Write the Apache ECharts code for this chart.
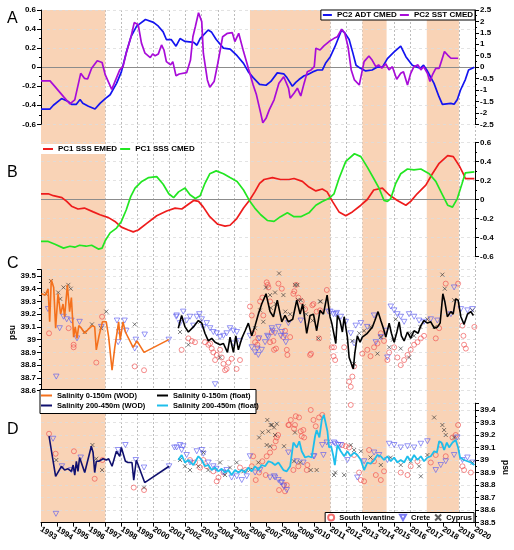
<!DOCTYPE html>
<html lang="en" style="height: 100%">
<head>
  <meta charset="utf-8">
</head>
<body style="height: 100%; margin: 0; background: #fff">
  <div id="container" style="width: 514px; height: 550px"></div>

  <script type="text/javascript" src="https://fastly.jsdelivr.net/npm/echarts@6/dist/echarts.min.js"></script>
  <script type="text/javascript">
    // ---- data: [year, value] ----
    var shadeSpans = [[1993, 1997], [2006, 2011], [2013, 2014.5], [2017, 2019]];

    // panel A (ADT on left axis, SST on right axis)
    var adtCmed = [[1993.0,-0.44],[1993.56,-0.44],[1993.77,-0.40],[1994.28,-0.33],[1994.69,-0.36],[1994.9,-0.39],[1995.2,-0.39],[1995.43,-0.34],[1995.6,-0.38],[1995.95,-0.41],[1996.36,-0.44],[1996.67,-0.38],[1997.0,-0.33],[1997.3,-0.29],[1997.7,-0.17],[1998.0,-0.05],[1998.3,0.15],[1998.6,0.32],[1998.95,0.43],[1999.5,0.50],[2000.0,0.47],[2000.3,0.43],[2000.6,0.37],[2000.8,0.29],[2001.1,0.29],[2001.4,0.22],[2001.65,0.30],[2001.96,0.27],[2002.5,0.26],[2002.7,0.23],[2002.9,0.30],[2003.4,0.39],[2003.6,0.37],[2003.9,0.29],[2004.35,0.20],[2004.77,0.19],[2005.2,0.12],[2005.6,0.04],[2005.9,-0.05],[2006.2,-0.11],[2006.6,-0.18],[2007.0,-0.19],[2007.3,-0.15],[2007.7,-0.06],[2008.1,-0.07],[2008.3,-0.11],[2008.64,-0.20],[2008.85,-0.16],[2009.05,-0.13],[2009.37,-0.09],[2009.57,-0.08],[2009.9,-0.05],[2010.2,-0.03],[2010.5,-0.03],[2010.7,0.04],[2011.0,0.11],[2011.3,0.22],[2011.7,0.39],[2011.9,0.36],[2012.17,0.29],[2012.4,0.15],[2012.6,0.02],[2012.85,-0.01],[2013.2,-0.04],[2013.6,-0.03],[2013.9,0.0],[2014.24,0.0],[2014.55,0.09],[2014.97,0.16],[2015.38,0.22],[2015.7,0.11],[2016.1,0.02],[2016.4,0.0],[2016.6,-0.01],[2016.8,0.02],[2017.0,-0.03],[2017.45,-0.17],[2017.76,-0.31],[2017.97,-0.39],[2018.5,-0.38],[2018.7,-0.39],[2018.9,-0.34],[2019.1,-0.24],[2019.4,-0.13],[2019.6,-0.03],[2019.96,0.0]];
    var sstCmed = [[1993.0,-0.60],[1993.56,-0.60],[1993.87,-0.85],[1994.4,-1.29],[1994.8,-1.61],[1995.1,-1.43],[1995.47,-0.27],[1995.7,-0.49],[1995.9,-0.52],[1996.15,-0.05],[1996.5,0.28],[1996.8,0.20],[1997.0,-0.34],[1997.1,-0.38],[1997.4,-0.97],[1997.6,-0.63],[1997.9,-0.12],[1998.1,0.02],[1998.3,0.61],[1998.6,1.33],[1998.8,1.95],[1999.05,1.85],[1999.25,1.05],[1999.47,0.61],[1999.8,0.42],[1999.95,0.58],[2000.1,0.50],[2000.3,0.58],[2000.5,0.97],[2000.65,0.75],[2000.8,0.24],[2001.06,0.10],[2001.2,0.24],[2001.4,-0.38],[2001.6,-0.30],[2002.06,-0.24],[2002.3,0.31],[2002.45,1.33],[2002.6,1.77],[2002.8,2.38],[2003.0,1.99],[2003.1,0.61],[2003.35,-0.56],[2003.5,-0.88],[2003.77,-0.63],[2004.0,0.17],[2004.3,1.33],[2004.6,1.48],[2004.9,1.51],[2005.06,1.12],[2005.3,1.48],[2005.6,0.68],[2005.9,-0.05],[2006.2,-0.78],[2006.4,-1.2],[2006.67,-2.02],[2006.8,-2.43],[2007.0,-2.24],[2007.2,-1.87],[2007.3,-1.95],[2007.5,-1.43],[2007.8,-0.70],[2008.1,-0.42],[2008.4,-0.92],[2008.5,-1.36],[2008.74,-1.14],[2008.95,-0.92],[2009.16,-1.26],[2009.37,-0.70],[2009.57,-0.2],[2009.8,-0.12],[2010.0,0.02],[2010.1,0.83],[2010.36,0.75],[2010.6,0.93],[2010.92,1.12],[2011.23,1.26],[2011.44,1.33],[2011.7,1.66],[2011.9,1.48],[2012.1,0.90],[2012.3,-0.12],[2012.5,-0.56],[2012.8,-0.78],[2012.93,-0.34],[2013.1,0.24],[2013.4,0.49],[2013.6,0.31],[2013.83,0.02],[2014.0,0.10],[2014.2,-0.05],[2014.45,0.14],[2014.65,-0.12],[2014.86,0.02],[2015.13,-0.53],[2015.38,-0.27],[2015.55,-0.2],[2015.8,-0.78],[2016.0,-0.27],[2016.2,0.02],[2016.45,0.10],[2016.63,-0.12],[2016.8,0.02],[2017.04,-0.27],[2017.2,-0.63],[2017.35,-0.34],[2017.56,-0.05],[2017.77,-0.05],[2017.97,0.39],[2018.1,0.68],[2018.3,0.53],[2018.5,0.39],[2018.95,0.39]];

    // panel B
    var sssEmed = [[1993.0,0.06],[1993.45,0.06],[1993.77,0.04],[1994.3,0.02],[1994.6,-0.02],[1994.9,-0.07],[1995.3,-0.10],[1995.7,-0.09],[1996.25,-0.13],[1996.67,-0.16],[1997.2,-0.19],[1997.6,-0.23],[1998.0,-0.29],[1998.43,-0.32],[1998.74,-0.34],[1999.05,-0.32],[1999.58,-0.25],[2000.2,-0.17],[2000.82,-0.12],[2001.34,-0.09],[2001.76,-0.10],[2002.17,-0.05],[2002.5,-0.01],[2002.8,-0.02],[2003.1,-0.08],[2003.5,-0.18],[2004.0,-0.26],[2004.45,-0.28],[2004.76,-0.27],[2005.18,-0.20],[2005.6,-0.09],[2005.96,-0.01],[2006.3,0.08],[2006.6,0.17],[2006.88,0.21],[2007.4,0.23],[2007.9,0.21],[2008.43,0.21],[2008.74,0.22],[2009.26,0.19],[2009.67,0.13],[2010.1,0.09],[2010.5,0.11],[2010.8,0.08],[2011.13,-0.02],[2011.54,-0.13],[2011.96,-0.17],[2012.37,-0.13],[2012.9,-0.06],[2013.3,0.0],[2013.7,0.10],[2014.24,0.12],[2014.65,0.05],[2015.17,-0.01],[2015.7,-0.06],[2016.0,-0.02],[2016.4,0.06],[2016.94,0.15],[2017.35,0.27],[2017.77,0.38],[2018.3,0.46],[2018.65,0.45],[2019.0,0.36],[2019.3,0.26],[2019.4,0.22],[2019.96,0.22]];
    var sssCmed = [[1993.0,-0.44],[1993.45,-0.44],[1993.87,-0.47],[1994.4,-0.51],[1994.8,-0.49],[1995.1,-0.50],[1995.4,-0.48],[1995.8,-0.49],[1996.15,-0.48],[1996.57,-0.52],[1996.8,-0.51],[1997.0,-0.43],[1997.3,-0.35],[1997.7,-0.30],[1998.0,-0.23],[1998.3,-0.11],[1998.58,0.03],[1998.85,0.12],[1999.27,0.19],[1999.7,0.23],[2000.2,0.24],[2000.6,0.16],[2000.95,0.06],[2001.25,0.02],[2001.56,0.08],[2001.96,0.12],[2002.27,0.05],[2002.6,0.01],[2002.9,0.04],[2003.2,0.17],[2003.5,0.27],[2003.9,0.30],[2004.35,0.27],[2004.76,0.23],[2005.2,0.19],[2005.6,0.10],[2005.96,-0.01],[2006.3,-0.09],[2006.67,-0.16],[2007.08,-0.22],[2007.5,-0.23],[2007.9,-0.18],[2008.33,-0.14],[2008.74,-0.18],[2009.16,-0.18],[2009.67,-0.14],[2010.1,-0.06],[2010.5,-0.02],[2010.9,0.01],[2011.23,0.06],[2011.54,0.22],[2011.96,0.40],[2012.5,0.48],[2012.9,0.45],[2013.3,0.34],[2013.7,0.22],[2014.03,0.12],[2014.34,-0.01],[2014.55,-0.02],[2014.76,0.01],[2015.07,0.17],[2015.38,0.27],[2015.8,0.32],[2016.2,0.31],[2016.63,0.32],[2017.15,0.27],[2017.56,0.19],[2017.97,0.05],[2018.3,-0.06],[2018.6,-0.08],[2018.9,0.01],[2019.2,0.17],[2019.4,0.28],[2019.96,0.29]];

    // panel C (0-150 m)
    var wodShallow = [[1993.02,39.36],[1993.27,39.35],[1993.44,39.40],[1993.54,39.14],[1993.64,39.47],[1993.79,39.41],[1993.91,39.09],[1994.06,39.36],[1994.22,39.20],[1994.37,39.28],[1994.47,39.18],[1994.64,39.43],[1994.78,39.22],[1994.89,39.33],[1995.03,39.02],[1995.13,39.10],[1995.24,39.01],[1995.35,39.11],[1995.51,39.09],[1995.72,39.05],[1995.93,39.08],[1996.2,39.11],[1996.34,39.10],[1996.44,38.92],[1996.61,39.03],[1996.82,39.14],[1997.06,39.14],[1997.21,39.02],[1997.42,38.76],[1997.59,38.94],[1997.83,39.14],[1997.93,39.00],[1998.1,39.14],[1998.25,39.06],[1998.37,39.07],[1998.73,38.94],[1998.97,38.99],[1999.41,38.90],[2000.95,39.00]];
    var floatShallow = [[2001.54,39.09],[2001.75,39.19],[2001.96,39.10],[2002.17,39.06],[2002.48,39.10],[2002.79,39.15],[2003.0,39.13],[2003.2,39.05],[2003.41,38.99],[2003.62,39.01],[2003.83,38.98],[2004.14,38.96],[2004.35,38.97],[2004.6,38.90],[2004.76,39.02],[2004.97,38.90],[2005.12,39.03],[2005.28,38.92],[2005.49,39.01],[2005.7,39.07],[2005.9,39.13],[2006.11,39.03],[2006.32,39.11],[2006.52,39.20],[2006.73,39.28],[2007.0,39.36],[2007.25,39.22],[2007.46,39.18],[2007.7,39.31],[2007.98,39.14],[2008.18,39.19],[2008.39,39.14],[2008.66,39.16],[2008.91,39.31],[2009.12,39.20],[2009.28,39.28],[2009.53,39.05],[2009.74,39.19],[2009.95,39.20],[2010.15,39.07],[2010.36,39.23],[2010.57,39.20],[2010.8,39.35],[2010.98,39.18],[2011.09,39.13],[2011.34,38.97],[2011.44,39.19],[2011.6,39.15],[2011.75,39.06],[2011.86,39.18],[2012.06,39.02],[2012.17,38.86],[2012.31,38.81],[2012.43,38.77],[2012.52,38.89],[2012.68,39.03],[2012.85,38.98],[2012.99,39.02],[2013.3,39.05],[2013.62,39.10],[2013.77,39.15],[2013.97,39.22],[2014.14,39.15],[2014.3,39.09],[2014.45,39.02],[2014.66,39.13],[2014.8,39.05],[2014.97,38.98],[2015.14,39.06],[2015.28,39.14],[2015.42,39.03],[2015.59,38.99],[2015.8,39.06],[2016.0,39.01],[2016.21,39.07],[2016.46,39.05],[2016.63,39.11],[2016.83,39.15],[2017.04,39.13],[2017.25,39.14],[2017.46,39.09],[2017.66,39.10],[2017.83,39.13],[2018.0,39.36],[2018.12,39.30],[2018.28,39.18],[2018.5,39.22],[2018.64,39.20],[2018.8,39.32],[2018.95,39.31],[2019.12,39.18],[2019.32,39.12],[2019.53,39.20],[2019.74,39.22],[2019.9,39.19]];
    var cLevantine = [[1993.5,39.05],[1994.72,39.09],[1995.03,38.96],[1995.03,38.94],[1996.44,38.82],[1996.8,39.18],[1998.83,38.79],[1999.41,38.76],[2001.75,38.92],[2002.17,39.01],[2002.38,38.99],[2002.58,38.98],[2003.2,38.98],[2003.41,38.96],[2003.52,38.97],[2003.62,38.93],[2003.72,38.90],[2003.83,38.84],[2003.93,38.88],[2004.14,38.92],[2004.24,38.86],[2004.35,38.81],[2004.45,38.76],[2004.55,38.77],[2004.66,38.82],[2004.86,38.85],[2005.17,38.77],[2005.38,38.84],[2006.0,39.26],[2006.11,39.19],[2006.2,39.05],[2006.32,38.98],[2006.46,38.96],[2006.52,39.01],[2006.63,39.30],[2006.77,39.33],[2006.83,39.19],[2007.04,39.45],[2007.1,39.43],[2007.15,39.41],[2007.25,39.30],[2007.36,39.06],[2007.25,38.98],[2007.46,38.99],[2007.5,38.92],[2007.62,38.93],[2007.77,39.44],[2007.98,39.40],[2008.08,39.02],[2008.18,39.07],[2008.29,38.92],[2008.33,38.88],[2008.5,39.02],[2008.7,39.36],[2008.76,39.38],[2008.87,39.43],[2009.01,39.33],[2009.22,39.30],[2009.43,39.24],[2009.74,38.88],[2009.8,38.89],[2009.88,39.27],[2009.95,39.28],[2010.15,39.22],[2010.3,39.01],[2010.36,39.23],[2010.78,39.39],[2011.09,38.94],[2011.2,38.87],[2011.23,38.94],[2011.3,38.84],[2011.86,38.94],[2012.17,38.67],[2012.27,38.63],[2012.37,38.71],[2012.48,38.79],[2012.99,38.89],[2013.3,38.92],[2013.5,38.87],[2013.72,38.94],[2013.93,38.97],[2014.14,39.05],[2014.34,38.99],[2014.55,38.84],[2014.66,38.90],[2014.97,38.94],[2015.17,38.86],[2015.38,38.80],[2015.59,38.84],[2015.8,38.88],[2016.0,38.92],[2016.21,38.96],[2016.42,38.98],[2016.63,39.01],[2016.83,39.03],[2017.56,39.01],[2017.77,39.09],[2018.18,39.44],[2018.95,39.44],[2019.22,39.11],[2019.28,39.03],[2019.32,38.96],[2019.43,38.93],[2019.96,39.10]];
    var cCrete = [[1993.44,39.24],[1993.95,38.71],[1994.16,39.09],[1994.4,39.18],[1994.6,39.16],[1994.89,39.15],[1995.24,39.01],[1995.4,39.14],[1996.75,39.10],[1997.73,39.15],[1997.8,38.98],[1997.87,39.06],[1998.2,39.15],[1998.3,39.07],[1998.83,38.93],[1998.9,39.0],[1999.45,39.04],[2000.95,39.0],[2001.42,39.18],[2001.44,39.19],[2001.65,39.13],[2001.85,39.22],[2002.06,39.15],[2002.27,39.18],[2002.48,39.11],[2002.69,39.18],[2002.85,39.20],[2003.0,39.16],[2003.1,39.10],[2003.31,39.13],[2003.52,39.09],[2003.72,39.06],[2003.83,38.65],[2003.93,39.05],[2004.14,39.02],[2004.35,39.03],[2004.55,39.05],[2004.76,39.09],[2004.97,39.07],[2004.97,38.97],[2005.18,39.06],[2005.38,38.99],[2006.0,39.03],[2006.11,38.94],[2006.32,38.90],[2006.46,38.93],[2006.52,38.88],[2006.57,39.01],[2006.73,38.92],[2006.94,38.98],[2007.08,39.03],[2007.15,39.02],[2007.36,39.09],[2007.4,39.07],[2007.56,39.05],[2007.77,39.10],[2007.92,39.03],[2007.98,39.06],[2008.18,39.03],[2008.23,38.98],[2008.39,39.13],[2009.16,39.15],[2010.88,39.22],[2011.0,39.22],[2011.2,39.20],[2011.34,39.20],[2011.4,39.21],[2011.65,39.18],[2011.96,39.14],[2012.27,39.05],[2012.48,38.97],[2012.58,39.11],[2012.9,39.13],[2013.3,39.10],[2013.72,39.19],[2013.83,38.98],[2014.14,39.02],[2014.45,39.07],[2014.55,38.86],[2014.76,39.26],[2014.97,39.23],[2015.17,39.20],[2015.38,39.18],[2015.59,39.14],[2015.9,39.20],[2016.21,39.18],[2016.52,39.15],[2016.83,39.14],[2017.25,39.16],[2017.66,39.15],[2018.5,39.20],[2018.7,39.41],[2019.12,39.24],[2019.53,39.23],[2019.84,39.24]];
    var cCyprus = [[1993.31,39.36],[1993.62,39.46],[1994.07,39.37],[1994.2,39.32],[1994.4,39.41],[1994.7,39.43],[1994.85,39.40],[1995.72,39.06],[1996.17,39.12],[1996.75,39.09],[1997.06,39.22],[1998.83,39.12],[2001.65,39.06],[2002.17,38.96],[2002.9,39.14],[2004.14,38.86],[2006.32,39.09],[2006.63,39.23],[2006.83,39.14],[2007.0,39.41],[2007.25,39.35],[2007.3,39.25],[2007.56,39.37],[2007.6,39.28],[2007.81,39.52],[2008.08,39.35],[2008.2,39.22],[2008.5,39.20],[2008.8,39.43],[2008.95,39.43],[2009.0,39.31],[2009.16,39.31],[2009.32,39.26],[2009.5,39.20],[2009.9,39.15],[2010.26,39.01],[2010.36,39.30],[2010.4,39.30],[2012.37,38.99],[2012.48,38.81],[2012.8,39.05],[2013.1,39.07],[2013.5,39.10],[2013.93,38.89],[2014.14,39.02],[2014.66,38.94],[2014.9,39.00],[2015.07,39.16],[2015.38,38.93],[2015.9,38.86],[2016.0,39.05],[2016.21,39.03],[2016.6,39.10],[2017.04,39.16],[2017.5,39.10],[2017.97,39.51],[2018.12,39.40],[2018.7,39.31],[2019.84,39.23]];

    // panel D (200-450 m)
    var wodDeep = [[1993.5,39.19],[1993.91,38.87],[1994.27,38.95],[1994.47,38.92],[1994.68,38.93],[1994.89,38.91],[1995.0,38.96],[1995.1,38.88],[1995.2,38.99],[1995.3,38.91],[1995.4,39.02],[1995.72,38.90],[1996.13,39.11],[1996.24,39.06],[1996.34,38.90],[1996.44,38.99],[1996.59,38.99],[1996.86,39.01],[1997.06,39.00],[1997.21,39.01],[1997.42,38.95],[1997.69,39.07],[1997.9,39.03],[1998.0,39.10],[1998.1,39.11],[1998.25,38.99],[1998.41,38.98],[1998.66,38.98],[1998.77,38.84],[1998.93,39.00],[1999.45,38.82],[2000.97,38.95]];
    var floatDeep = [[2001.54,39.0],[2001.75,39.04],[2001.96,38.98],[2002.17,39.0],[2002.48,38.96],[2002.79,39.03],[2003.0,39.0],[2003.2,38.95],[2003.41,38.96],[2003.62,38.92],[2003.83,38.94],[2004.04,38.91],[2004.24,38.93],[2004.45,38.90],[2004.66,38.92],[2004.86,38.88],[2005.07,38.92],[2005.28,38.90],[2005.49,38.92],[2005.7,38.90],[2005.9,38.94],[2006.11,38.91],[2006.32,38.95],[2006.52,38.92],[2006.73,38.96],[2006.94,38.95],[2007.15,38.99],[2007.36,38.98],[2007.56,38.96],[2007.77,38.98],[2008.08,38.92],[2008.29,38.91],[2008.5,38.95],[2008.7,39.14],[2008.91,39.10],[2009.07,39.15],[2009.22,39.07],[2009.43,39.02],[2009.64,39.03],[2009.84,39.02],[2010.05,39.19],[2010.15,39.24],[2010.32,39.18],[2010.47,39.32],[2010.6,39.36],[2010.7,39.35],[2010.82,39.23],[2010.92,39.10],[2011.05,39.11],[2011.19,39.03],[2011.28,38.96],[2011.44,39.12],[2011.65,39.07],[2011.86,39.03],[2012.06,39.07],[2012.27,39.03],[2012.48,39.06],[2012.68,39.04],[2012.9,39.0],[2013.1,38.92],[2013.3,38.98],[2013.5,38.97],[2013.72,39.0],[2013.93,39.04],[2014.14,39.03],[2014.34,39.0],[2014.55,39.03],[2014.76,38.99],[2014.97,39.02],[2015.17,38.98],[2015.38,39.0],[2015.59,38.98],[2015.8,39.03],[2016.0,38.99],[2016.21,39.04],[2016.42,39.0],[2016.63,39.03],[2016.83,38.99],[2017.04,39.02],[2017.25,39.03],[2017.46,39.07],[2017.63,39.06],[2017.77,39.15],[2017.91,39.14],[2018.08,39.08],[2018.25,39.14],[2018.39,39.10],[2018.6,39.14],[2018.8,39.16],[2018.95,39.10],[2019.07,39.02],[2019.32,39.0],[2019.53,38.99],[2019.74,38.98],[2019.96,38.96]];
    var dLevantine = [[1993.5,39.21],[1993.91,39.05],[1995.05,39.07],[1996.34,38.85],[1996.82,39.0],[1998.77,38.78],[1999.41,38.76],[2002.27,39.0],[2002.58,38.98],[2002.9,38.94],[2003.1,39.0],[2003.31,38.95],[2003.72,38.91],[2003.93,38.83],[2004.04,38.86],[2004.35,38.90],[2005.38,38.94],[2005.7,38.92],[2006.11,38.95],[2006.2,39.03],[2006.36,38.84],[2006.57,38.90],[2006.77,38.99],[2006.98,38.88],[2007.04,39.03],[2007.25,39.06],[2007.5,39.10],[2007.6,39.15],[2007.67,39.18],[2007.75,39.20],[2007.81,38.76],[2008.12,38.80],[2008.18,38.75],[2008.29,38.80],[2008.39,39.28],[2008.43,39.28],[2008.54,39.32],[2008.7,38.92],[2008.74,39.25],[2008.8,39.28],[2008.85,39.35],[2009.01,38.95],[2009.05,39.34],[2009.16,39.23],[2009.22,39.19],[2009.32,39.24],[2009.37,39.18],[2009.53,38.92],[2009.57,38.96],[2009.78,39.40],[2009.95,39.32],[2010.09,39.27],[2010.3,39.34],[2010.5,39.36],[2011.75,39.12],[2011.96,39.11],[2012.17,39.10],[2012.27,39.44],[2012.48,39.04],[2012.79,38.90],[2012.9,38.84],[2013.1,38.83],[2013.41,39.08],[2013.72,38.99],[2013.83,38.88],[2014.14,38.84],[2014.34,38.91],[2015.38,38.90],[2015.8,38.88],[2016.0,38.95],[2016.42,38.99],[2017.25,38.98],[2017.56,39.04],[2017.87,39.12],[2018.18,39.03],[2018.6,39.18],[2018.8,39.20],[2018.95,39.28],[2019.22,38.95],[2019.32,38.92],[2019.74,38.90]];
    var dCrete = [[1993.75,39.17],[1993.93,38.57],[1994.3,38.95],[1994.89,38.92],[1995.47,39.02],[1997.8,39.08],[1998.25,39.12],[1998.9,39.0],[1999.41,38.94],[2000.97,38.95],[2001.3,39.1],[2001.44,39.10],[2001.65,39.12],[2001.75,39.08],[2001.85,39.11],[2002.06,39.04],[2002.27,38.98],[2002.69,39.07],[2003.0,39.08],[2003.1,39.05],[2003.41,38.98],[2003.72,38.95],[2003.9,38.93],[2004.35,38.90],[2004.55,38.92],[2004.86,38.86],[2005.18,38.87],[2005.49,38.84],[2005.8,38.87],[2006.0,39.03],[2006.32,38.90],[2006.63,38.92],[2007.25,38.86],[2007.5,38.87],[2007.56,38.86],[2007.77,38.84],[2007.92,38.82],[2007.98,38.82],[2008.1,38.79],[2008.29,38.76],[2008.39,39.06],[2008.91,38.99],[2009.32,38.98],[2009.95,39.03],[2010.0,39.03],[2010.5,39.12],[2010.57,39.04],[2010.78,39.14],[2010.98,39.12],[2011.23,39.14],[2011.3,39.13],[2011.5,39.12],[2011.65,39.12],[2012.06,39.0],[2012.68,38.86],[2013.1,38.99],[2013.72,39.06],[2014.03,39.04],[2014.55,39.0],[2014.66,39.13],[2014.97,39.12],[2015.38,39.10],[2015.8,39.11],[2016.21,39.10],[2016.63,39.13],[2017.04,39.15],[2017.56,38.92],[2017.87,38.96],[2018.18,38.99],[2018.7,39.04],[2018.9,39.18],[2019.22,39.0],[2019.53,39.02],[2019.84,38.98]];
    var dCyprus = [[1993.95,39.0],[1996.2,39.12],[1996.44,39.01],[1996.8,38.92],[1999.41,38.78],[2001.65,39.0],[2001.96,38.95],[2002.27,38.92],[2002.79,38.95],[2003.1,39.06],[2003.41,38.92],[2004.14,38.98],[2004.45,38.88],[2004.76,38.94],[2005.18,38.98],[2005.6,38.91],[2006.0,38.92],[2006.52,38.98],[2006.57,39.18],[2006.77,39.22],[2007.04,39.12],[2007.08,39.32],[2007.15,39.23],[2007.25,39.11],[2007.29,39.28],[2007.36,39.28],[2007.5,39.26],[2007.56,39.20],[2007.67,39.29],[2008.12,39.11],[2008.74,38.99],[2008.8,39.22],[2009.12,38.98],[2009.78,38.92],[2010.15,38.92],[2011.23,38.88],[2011.3,38.90],[2011.86,38.88],[2012.27,39.12],[2012.48,39.08],[2012.9,39.07],[2013.5,39.02],[2014.14,38.96],[2014.76,39.02],[2015.38,38.96],[2016.0,38.99],[2016.52,38.95],[2016.63,38.87],[2017.04,39.04],[2017.46,39.34],[2017.97,39.28],[2018.08,39.24],[2018.18,39.20],[2018.7,39.18],[2019.84,38.98]];

    // ---- chart ----
    var dom = document.getElementById('container');
    var myChart = echarts.init(dom, null, { renderer: 'canvas' });

    var FONT = 'Liberation Sans, Arial, sans-serif';
    var SHADE = '#F9D3B6';
    var TRI_DOWN = 'path://M0,0L10,0L5,9Z';
    var CROSS = 'path://M0,0L10,10M10,0L0,10';

    var labelStyle = { color: '#000', fontFamily: FONT, fontWeight: 'bold', fontSize: 8 };

    function valueAxis(opts) {
      return Object.assign({
        type: 'value',
        axisLine: { show: true, onZero: false, lineStyle: { color: '#000', width: 1 } },
        axisTick: { show: true, length: 4, lineStyle: { color: '#000' } },
        minorTick: { show: true, splitNumber: 2, length: 2, lineStyle: { color: '#000' } },
        axisLabel: Object.assign({ margin: 5 }, labelStyle),
        splitLine: { show: true, lineStyle: { color: '#dcdcdc', type: [3, 3], width: 0.8 } },
        z: 5
      }, opts);
    }

    function hiddenX(grid) {
      return { type: 'value', gridIndex: grid, min: 1993, max: 2020, show: false };
    }

    function line(name, data, xi, yi, color, width) {
      return {
        name: name, type: 'line', xAxisIndex: xi, yAxisIndex: yi, data: data,
        color: color, showSymbol: false, symbol: 'none',
        lineStyle: { color: color, width: width || 1.6 }, z: 10
      };
    }

    function marks(name, data, xi, yi, kind) {
      var s = { name: name, type: 'scatter', xAxisIndex: xi, yAxisIndex: yi, data: data, z: 6 };
      if (kind === 'circle') {
        s.symbol = 'circle'; s.symbolSize = 5; s.color = '#F04C4C';
        s.itemStyle = { color: 'rgba(255,255,255,0)', borderColor: '#F04C4C', borderWidth: 0.8 };
      } else if (kind === 'tri') {
        s.symbol = TRI_DOWN; s.symbolSize = [5.5, 5]; s.color = '#5A5AF0';
        s.itemStyle = { color: 'rgba(255,255,255,0)', borderColor: '#5A5AF0', borderWidth: 0.8 };
      } else {
        s.symbol = CROSS; s.symbolSize = 4; s.color = '#333';
        s.itemStyle = { color: 'rgba(255,255,255,0)', borderColor: '#333', borderWidth: 0.8 };
      }
      return s;
    }

    function zeroLine(xi, yi) {
      return {
        type: 'line', xAxisIndex: xi, yAxisIndex: yi, data: [], z: 4, silent: true,
        markLine: {
          silent: true, symbol: 'none', label: { show: false },
          lineStyle: { color: '#8c8c8c', type: 'solid', width: 1 },
          data: [{ yAxis: 0 }]
        }
      };
    }

    var legendText = { color: '#000', fontFamily: FONT, fontWeight: 'bold', fontSize: 8 };

    var option = {
      animation: false,
      backgroundColor: '#fff',
      grid: [
        { left: 41, right: 39, top: 10, height: 512.6 },      // shading + year lines
        { left: 41, right: 39, top: 10, height: 114.3 },      // A
        { left: 41, right: 39, top: 142.3, height: 114.4 },   // B
        { left: 41, right: 39, top: 269.6, height: 121.0 },   // C
        { left: 41, right: 39, top: 403.7, height: 118.9 }    // D
      ],
      xAxis: [
        {
          type: 'value', gridIndex: 0, min: 1993, max: 2020, interval: 1, z: 1,
          axisLine: { show: false }, axisTick: { show: false }, axisLabel: { show: false },
          splitLine: { show: true, lineStyle: { color: '#ababab', type: [2, 2], width: 0.8 } }
        },
        hiddenX(1), hiddenX(2), hiddenX(3),
        {
          type: 'value', gridIndex: 4, min: 1993, max: 2020, interval: 1, z: 5,
          axisLine: { show: true, onZero: false, lineStyle: { color: '#000' } },
          axisTick: { show: true, length: 4, lineStyle: { color: '#000' } },
          axisLabel: Object.assign({ rotate: -32, margin: 6, formatter: function (v) { return v.toFixed(0); } }, labelStyle),
          splitLine: { show: false }
        }
      ],
      yAxis: [
        { type: 'value', gridIndex: 0, min: 0, max: 1, show: false },
        valueAxis({ gridIndex: 1, position: 'left', min: -0.6, max: 0.6, interval: 0.2 }),
        valueAxis({ gridIndex: 1, position: 'right', min: -2.5, max: 2.5, interval: 0.5, splitLine: { show: false } }),
        valueAxis({ gridIndex: 2, position: 'right', min: -0.6, max: 0.6, interval: 0.2 }),
        valueAxis({ gridIndex: 3, position: 'left', min: 38.6, max: 39.55, interval: 0.1,
          axisLabel: Object.assign({ margin: 5, showMaxLabel: false }, labelStyle) }),
        valueAxis({ gridIndex: 4, position: 'right', min: 38.5, max: 39.45, interval: 0.1,
          axisLabel: Object.assign({ margin: 5, showMaxLabel: false }, labelStyle) })
      ],
      legend: [
        {
          data: ['PC2 ADT CMED', 'PC2 SST CMED'], right: 39, top: 10, z: 30,
          icon: 'rect', itemWidth: 9, itemHeight: 2, itemGap: 3, padding: [1, 2],
          backgroundColor: '#fff', borderColor: '#000', borderWidth: 1,
          textStyle: legendText, selectedMode: false
        },
        {
          data: ['PC1 SSS EMED', 'PC1 SSS CMED'], left: 41, top: 144, z: 30,
          icon: 'rect', itemWidth: 10, itemHeight: 2, itemGap: 3, padding: [1, 2],
          backgroundColor: '#fff', textStyle: legendText, selectedMode: false
        },
        {
          data: ['Salinity 0-150m (WOD)', 'Salinity 200-450m (WOD)'], orient: 'vertical',
          left: 41, top: 391.5, z: 30, icon: 'rect', itemWidth: 11, itemHeight: 2, itemGap: 2, padding: 0,
          textStyle: Object.assign({}, legendText, { fontSize: 7.5 }), selectedMode: false
        },
        {
          data: ['Salinity 0-150m (float)', 'Salinity 200-450m (float)'], orient: 'vertical',
          left: 157, top: 391.5, z: 30, icon: 'rect', itemWidth: 11, itemHeight: 2, itemGap: 2, padding: 0,
          textStyle: Object.assign({}, legendText, { fontSize: 7.5 }), selectedMode: false
        },
        {
          data: [
            { name: 'South levantine', icon: 'circle' },
            { name: 'Crete', icon: TRI_DOWN },
            { name: 'Cyprus', icon: CROSS }
          ],
          right: 40, top: 512.5, z: 30, itemWidth: 6, itemHeight: 6, itemGap: 4, padding: [1, 2],
          backgroundColor: '#fff', borderColor: '#000', borderWidth: 1,
          textStyle: Object.assign({}, legendText, { fontSize: 7.5 }), selectedMode: false
        }
      ],
      graphic: [
        { type: 'rect', z: 20, shape: { x: 40, y: 389.5, width: 216, height: 24 },
          style: { fill: '#fff', stroke: '#000', lineWidth: 1 } },
        { type: 'text', z: 20, x: 7, y: 19, style: { text: 'A', fontSize: 16, fontFamily: FONT, fill: '#000', verticalAlign: 'middle' } },
        { type: 'text', z: 20, x: 7, y: 173, style: { text: 'B', fontSize: 16, fontFamily: FONT, fill: '#000', verticalAlign: 'middle' } },
        { type: 'text', z: 20, x: 7, y: 264, style: { text: 'C', fontSize: 16, fontFamily: FONT, fill: '#000', verticalAlign: 'middle' } },
        { type: 'text', z: 20, x: 7, y: 430, style: { text: 'D', fontSize: 16, fontFamily: FONT, fill: '#000', verticalAlign: 'middle' } },
        { type: 'text', z: 20, x: 12.7, y: 332.5, rotation: Math.PI / 2,
          style: { text: 'psu', fontSize: 8.5, fontWeight: 'bold', fontFamily: FONT, fill: '#000', align: 'center', verticalAlign: 'middle' } },
        { type: 'text', z: 20, x: 505.7, y: 467.5, rotation: -Math.PI / 2,
          style: { text: 'psu', fontSize: 8.5, fontWeight: 'bold', fontFamily: FONT, fill: '#000', align: 'center', verticalAlign: 'middle' } }
      ],
      series: [
        {
          type: 'line', xAxisIndex: 0, yAxisIndex: 0, data: [], z: 0, silent: true,
          markArea: {
            silent: true, itemStyle: { color: SHADE },
            data: shadeSpans.map(function (s) { return [{ xAxis: s[0] }, { xAxis: s[1] }]; })
          }
        },
        zeroLine(1, 1),
        zeroLine(2, 3),
        line('PC2 ADT CMED', adtCmed, 1, 1, '#1414F0', 1.7),
        line('PC2 SST CMED', sstCmed, 1, 2, '#A80CD8', 1.7),
        line('PC1 SSS EMED', sssEmed, 2, 3, '#EE1C1C', 1.7),
        line('PC1 SSS CMED', sssCmed, 2, 3, '#22E622', 1.7),
        marks('South levantine', cLevantine, 3, 4, 'circle'),
        marks('Crete', cCrete, 3, 4, 'tri'),
        marks('Cyprus', cCyprus, 3, 4, 'cross'),
        line('Salinity 0-150m (WOD)', wodShallow, 3, 4, '#F4701C', 1.6),
        line('Salinity 0-150m (float)', floatShallow, 3, 4, '#000000', 1.6),
        marks('South levantine', dLevantine, 4, 5, 'circle'),
        marks('Crete', dCrete, 4, 5, 'tri'),
        marks('Cyprus', dCyprus, 4, 5, 'cross'),
        line('Salinity 200-450m (WOD)', wodDeep, 4, 5, '#10106E', 1.6),
        line('Salinity 200-450m (float)', floatDeep, 4, 5, '#1EBEEB', 1.8)
      ]
    };

    myChart.setOption(option);
    window.addEventListener('resize', myChart.resize);
  </script>
</body>
</html>
